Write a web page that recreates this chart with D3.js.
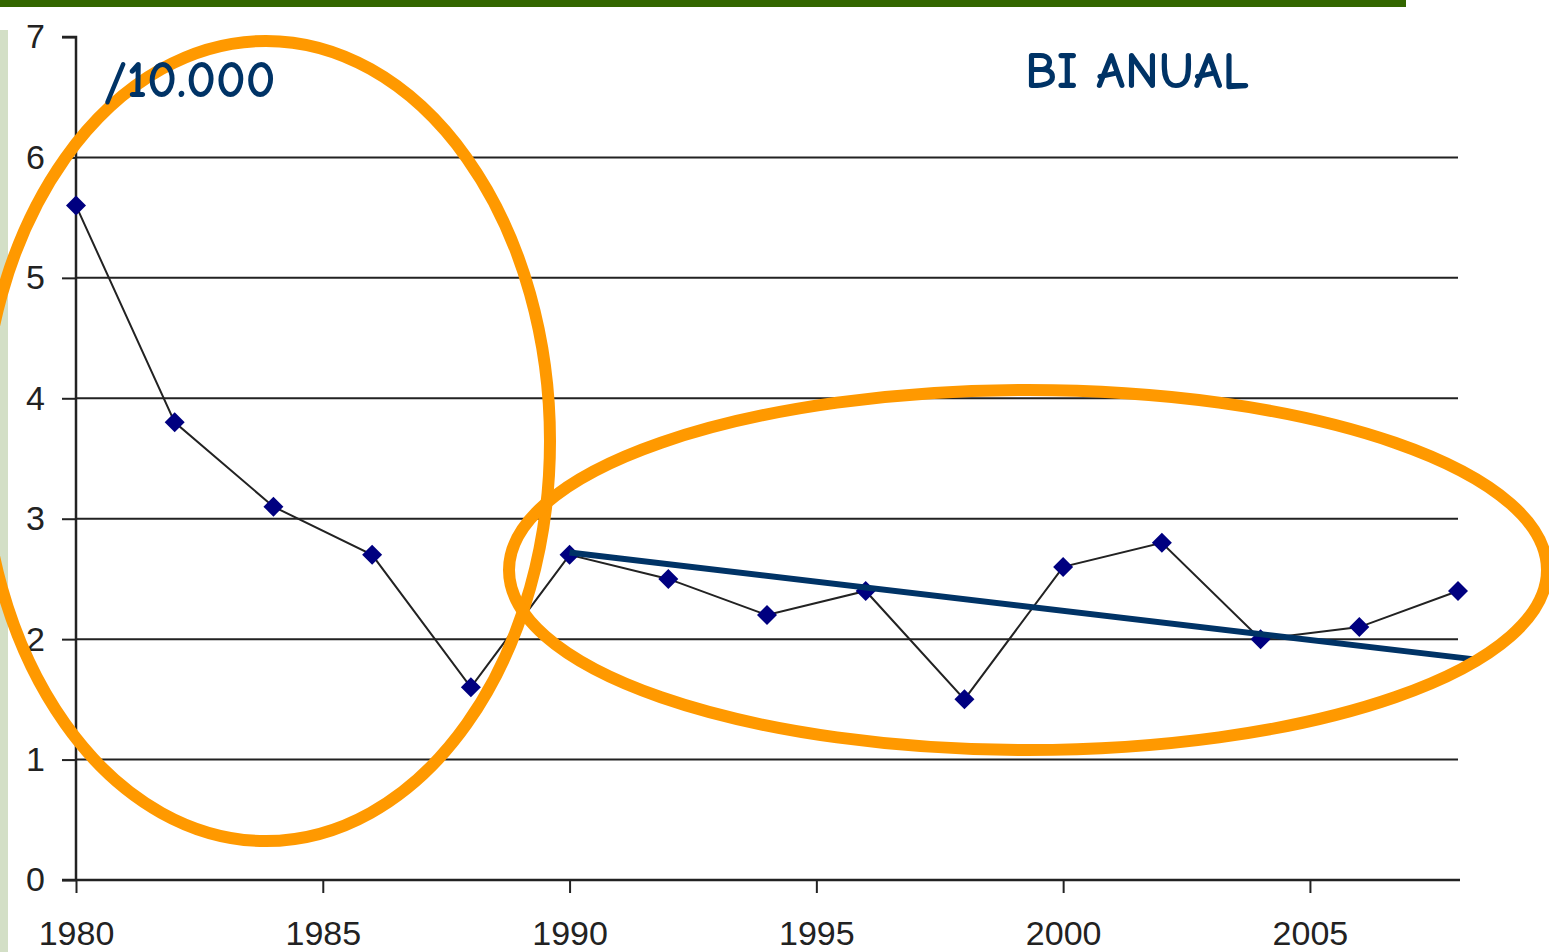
<!DOCTYPE html>
<html>
<head>
<meta charset="utf-8">
<script src="https://cdn.jsdelivr.net/npm/d3@7"></script>
<style>
  html, body { margin: 0; padding: 0; background: #fff; overflow: hidden; }
  svg { display: block; }
</style>
</head>
<body>
<div id="chart"></div>
<script>
// data
var years  = [1980, 1982, 1984, 1986, 1988, 1990, 1992, 1994, 1996, 1998, 2000, 2002, 2004, 2006, 2008];
var values = [5.6, 3.8, 3.1, 2.7, 1.6, 2.7, 2.5, 2.2, 2.4, 1.5, 2.6, 2.8, 2.0, 2.1, 2.4];
var xTicks = [1980, 1985, 1990, 1995, 2000, 2005];
var yTicks = [0, 1, 2, 3, 4, 5, 6, 7];
var gridValues = [1, 2, 3, 4, 5, 6];
var trendYears  = [1990, 2008.38];
var trendValues = [2.72, 1.83];
var unitLabel = "/10.000";
var titleLabel = "BI ANUAL";

var W = 1549, H = 952;
var margin = {top: 37, left: 76};
var plotW = 1458 - 76, plotH = 880 - 37;

var svg = d3.select("#chart").append("svg")
    .attr("width", W)
    .attr("height", H);

// slide decorations: green top bar and textured left strip
svg.append("rect").attr("x", 0).attr("y", 0).attr("width", 1406).attr("height", 7).attr("fill", "#336600");
svg.append("rect").attr("x", 0).attr("y", 30).attr("width", 8).attr("height", H - 30).attr("fill", "#d3dfc6");

var g = svg.append("g")
    .attr("transform", "translate(" + margin.left + "," + margin.top + ")");

var x = d3.scaleLinear().domain([1980, 2008]).range([0, plotW]);
var y = d3.scaleLinear().domain([0, 7]).range([plotH, 0]);

// gridlines
g.selectAll(".grid").data(gridValues).enter().append("line")
    .attr("class", "grid")
    .attr("x1", 0).attr("x2", plotW)
    .attr("y1", function(d) { return y(d); })
    .attr("y2", function(d) { return y(d); })
    .attr("stroke", "#222").attr("stroke-width", 2);

// Y axis
var yAxis = g.append("g")
    .call(d3.axisLeft(y).tickValues(yTicks).tickSize(14).tickPadding(17).tickFormat(d3.format("d")));
// X axis
var xAxis = g.append("g")
    .attr("transform", "translate(0," + plotH + ")")
    .call(d3.axisBottom(x).tickValues(xTicks).tickSize(13).tickPadding(28).tickFormat(d3.format("d")));

[yAxis, xAxis].forEach(function(a) {
  a.select(".domain").attr("stroke", "#222").attr("stroke-width", 2.5);
  a.selectAll(".tick line").attr("stroke", "#222").attr("stroke-width", 2);
  a.selectAll("text")
    .attr("fill", "#222")
    .style("font-family", "Liberation Sans, Arial, sans-serif")
    .style("font-size", "34px");
});
// remove outer end ticks on the domain path
yAxis.select(".domain").attr("d", "M-14," + y(7) + "H0V" + y(0));
xAxis.select(".domain").attr("d", "M-14,0H" + (plotW + 2));

// series line
var line = d3.line()
    .x(function(d, i) { return x(years[i]); })
    .y(function(d) { return y(d); });

g.append("path")
    .datum(values)
    .attr("d", line)
    .attr("fill", "none")
    .attr("stroke", "#222")
    .attr("stroke-width", 2);

// diamond markers
g.selectAll(".pt").data(values).enter().append("path")
    .attr("class", "pt")
    .attr("transform", function(d, i) { return "translate(" + x(years[i]) + "," + y(d) + ")"; })
    .attr("d", "M0,-10L10,0L0,10L-10,0Z")
    .attr("fill", "#000080");

// trend line
g.append("line")
    .attr("x1", x(trendYears[0])).attr("y1", y(trendValues[0]))
    .attr("x2", x(trendYears[1])).attr("y2", y(trendValues[1]))
    .attr("stroke", "#003366")
    .attr("stroke-width", 6);

// orange ellipses (annotation)
svg.append("ellipse")
    .attr("cx", 266).attr("cy", 441).attr("rx", 284).attr("ry", 400)
    .attr("fill", "none").attr("stroke", "#ff9900").attr("stroke-width", 12);
svg.append("ellipse")
    .attr("cx", 1028).attr("cy", 570).attr("rx", 519).attr("ry", 180)
    .attr("fill", "none").attr("stroke", "#ff9900").attr("stroke-width", 12);

// labels
svg.append("text")
    .attr("x", 104).attr("y", 97)
    .attr("fill", "#003366")
    .style("font-family", "'Comic Sans MS', 'Comic Neue', 'DejaVu Sans', sans-serif")
    .style("font-size", "52px")
    .style("font-weight", "bold")
    .text(unitLabel);
svg.append("text")
    .attr("x", 1025).attr("y", 88)
    .attr("fill", "#003366")
    .style("font-family", "'Comic Sans MS', 'Comic Neue', 'DejaVu Sans', sans-serif")
    .style("font-size", "52px")
    .style("font-weight", "bold")
    .text(titleLabel);
</script>
</body>
</html>
